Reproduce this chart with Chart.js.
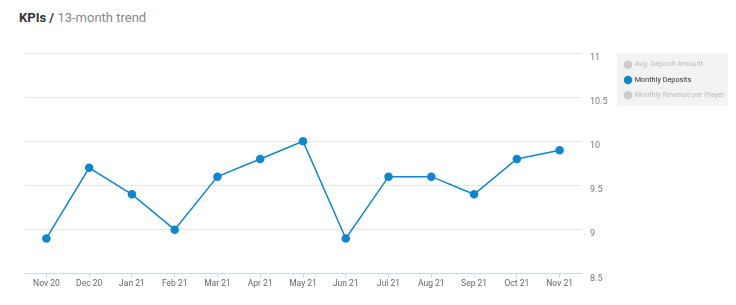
<!DOCTYPE html>
<html><head><meta charset="utf-8">
<script src="https://cdn.jsdelivr.net/npm/chart.js@4/dist/chart.umd.min.js"></script>
<style>
html,body{margin:0;padding:0;background:#fff;width:736px;height:305px;overflow:hidden;font-family:Roboto,sans-serif;}
#title{position:absolute;left:19px;top:10px;font-size:13px;color:#888;white-space:nowrap;}
#title b{color:#333;font-weight:700;}
#wrap{position:absolute;left:0;top:40px;width:736px;height:265px;}
</style></head><body>
<div id="title"><b>KPIs /</b> 13-month trend</div>
<div id="wrap"><canvas id="c" width="736" height="265"></canvas></div>
<script>
const categories = ["Nov 20","Dec 20","Jan 21","Feb 21","Mar 21","Apr 21","May 21","Jun 21","Jul 21","Aug 21","Sep 21","Oct 21","Nov 21"];
const seriesNames = ["Avg. Deposit Amount","Monthly Deposits","Monthly Revenue per Player"];
const monthlyDeposits = [8.9, 9.7, 9.4, 9.0, 9.6, 9.8, 10.0, 8.9, 9.6, 9.6, 9.4, 9.8, 9.9];
const yTicks = [8.5, 9, 9.5, 10, 10.5, 11];

const blue = '#0f86d0';
const legendBg = {
  id:'legendBg',
  beforeDraw(chart){
    const l = chart.legend; if(!l) return;
    const ctx = chart.ctx; ctx.save();
    ctx.fillStyle = '#f3f3f3';
    ctx.fillRect(l.left, l.top, l.width, 53);
    ctx.restore();
  }
};
const legendFit = {
  id:'legendFit',
  beforeInit(chart){
    const orig = chart.legend.fit;
    chart.legend.fit = function(){ orig.call(this); this.width = 111; };
  }
};

new Chart(document.getElementById('c'), {
  type:'line',
  data:{
    labels: categories,
    datasets:[
      {label: seriesNames[0], data: [], hidden:true, borderColor:'#ccc', backgroundColor:'#ccc'},
      {label: seriesNames[1], data: monthlyDeposits, borderColor: blue, backgroundColor: blue,
       borderWidth:1.5, pointRadius:3.5, pointHoverRadius:4, tension:0, fill:false},
      {label: seriesNames[2], data: [], hidden:true, borderColor:'#ccc', backgroundColor:'#ccc'}
    ]
  },
  plugins:[legendBg, legendFit],
  options:{
    responsive:false, animation:false,
    layout:{padding:{top:13, right:8, left:25, bottom:15}},
    plugins:{
      tooltip:{enabled:false},
      legend:{
        position:'right', align:'start',
        labels:{
          usePointStyle:true, pointStyle:'circle', boxWidth:6, boxHeight:6, padding:8,
          font:{family:'Roboto', size:7.3},
          generateLabels(chart){
            return chart.data.datasets.map((ds,i)=>{
              const vis = chart.isDatasetVisible(i);
              return {text: ds.label, fillStyle: vis? blue:'#cccccc', strokeStyle: vis? blue:'#cccccc',
                lineWidth:0, hidden:false, pointStyle:'circle', datasetIndex:i,
                fontColor: vis? '#333':'#bbbbbb'};
            });
          }
        }
      }
    },
    scales:{
      x:{
        offset:true,
        grid:{display:true, drawOnChartArea:false, drawTicks:true, tickLength:4, color:'#ccd6eb'},
        border:{display:true, color:'#ccd6eb'},
        ticks:{color:'#666', font:{family:'Roboto', size:8.5}, padding:1, maxRotation:0, autoSkip:false}
      },
      y:{
        position:'right', min:8.5, max:11,
        afterBuildTicks(axis){ axis.ticks = yTicks.map(v=>({value:v})); },
        afterFit(axis){ axis.width = 36; },
        grid:{color:'#e6e6e6', drawTicks:false},
        border:{display:false},
        ticks:{color:'#777', font:{family:'Roboto', size:9}, padding:9, align:'start',
          callback(v){ return String(v); }}
      }
    }
  }
});
</script>
</body></html>
